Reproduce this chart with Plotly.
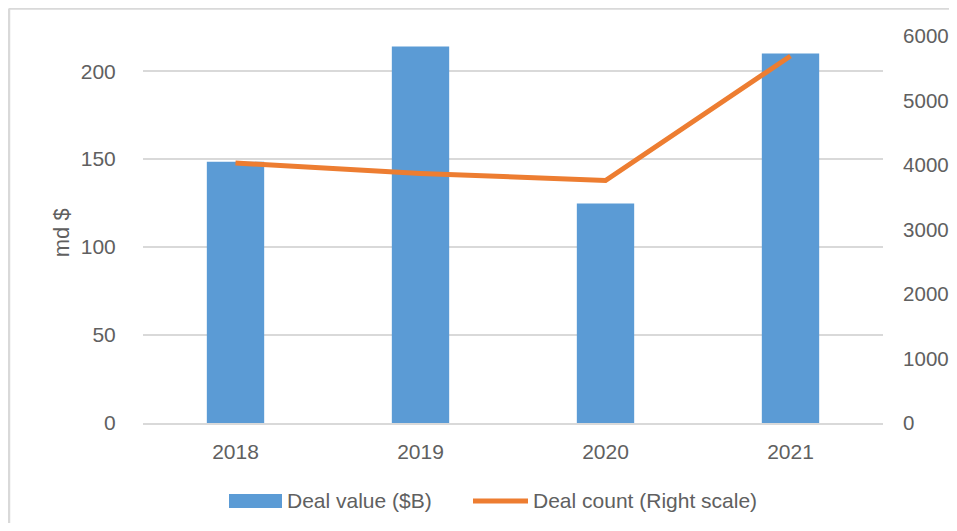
import plotly.graph_objects as go

years = ["2018", "2019", "2020", "2021"]
deal_value = [148.5, 214, 124.8, 210]
deal_count = [4030, 3870, 3760, 5690]
series_names = ["Deal value ($B)", "Deal count (Right scale)"]
left_ticks = [0, 50, 100, 150, 200]
right_ticks = [0, 1000, 2000, 3000, 4000, 5000, 6000]

# figure is placed at (8,8) in the page by the body margin
OFF = 8
W, H = 957 - 2 * OFF, 531 - 2 * OFF
L, T = 143 - OFF, 35.5 - OFF
R = W - (883 - OFF)
B = H - (423 - OFF)
pw, ph = W - L - R, H - T - B

def px(x):  # reference pixel x -> paper coord
    return (x - OFF - L) / pw

def py(y):  # reference pixel y -> paper coord
    return (H - B - (y - OFF)) / ph

BLUE = "#5B9BD5"
ORANGE = "#ED7D31"
GREY = "#d9d9d9"
FAM = "Liberation Sans, Arial"
TXT = "#606060"
font = dict(family=FAM, size=21, color=TXT)

fig = go.Figure()
fig.add_trace(go.Bar(x=years, y=deal_value, name=series_names[0],
                     marker=dict(color=BLUE, line=dict(width=0)), yaxis="y",
                     showlegend=False))
fig.add_trace(go.Scatter(x=years, y=deal_count, name=series_names[1],
                         mode="lines", line=dict(color=ORANGE, width=5), yaxis="y2",
                         showlegend=False))

fig.update_layout(
    width=W, height=H,
    margin=dict(l=L, r=R, t=T, b=B, autoexpand=False),
    paper_bgcolor="white", plot_bgcolor="white",
    bargap=0.69,
    font=font,
    xaxis=dict(showgrid=False, showline=True, linecolor=GREY, linewidth=2,
               ticks="outside", ticklen=9, tickcolor="rgba(0,0,0,0)",
               tickfont=font, zeroline=False),
    yaxis=dict(range=[0, 220], tickvals=left_ticks, showgrid=True,
               gridcolor=GREY, gridwidth=2, zeroline=False, showline=False,
               tickfont=font, ticks="outside", ticklen=22, tickcolor="rgba(0,0,0,0)"),
    yaxis2=dict(range=[0, 6000], tickvals=right_ticks,
                overlaying="y", side="right", showgrid=False, zeroline=False,
                showline=False, tickfont=dict(family=FAM, size=20.5, color=TXT),
                ticks="outside", ticklen=15, tickcolor="rgba(0,0,0,0)"),
)

# chart border (left and top edges visible)
fig.add_shape(type="line", xref="paper", yref="paper",
              x0=px(9), x1=px(960), y0=py(8), y1=py(8),
              line=dict(color=GREY, width=2.5))
fig.add_shape(type="line", xref="paper", yref="paper",
              x0=px(9), x1=px(9), y0=py(8), y1=py(540),
              line=dict(color=GREY, width=2.5))

# y axis title
fig.add_annotation(text="md $", xref="paper", yref="paper", x=px(61), y=py(233),
                   showarrow=False, textangle=-90, font=dict(family=FAM, size=22, color=TXT),
                   xanchor="center", yanchor="middle")

# legend
fig.add_shape(type="rect", xref="paper", yref="paper",
              x0=px(229), x1=px(282), y0=py(508), y1=py(494),
              fillcolor=BLUE, line=dict(width=0))
fig.add_annotation(text=series_names[0], xref="paper", yref="paper", x=px(285), y=py(501),
                   showarrow=False, xanchor="left", yanchor="middle", font=font)
fig.add_shape(type="line", xref="paper", yref="paper",
              x0=px(473), x1=px(528), y0=py(501), y1=py(501),
              line=dict(color=ORANGE, width=5))
fig.add_annotation(text=series_names[1], xref="paper", yref="paper", x=px(531), y=py(501),
                   showarrow=False, xanchor="left", yanchor="middle", font=font)

fig.write_html("out.html")
